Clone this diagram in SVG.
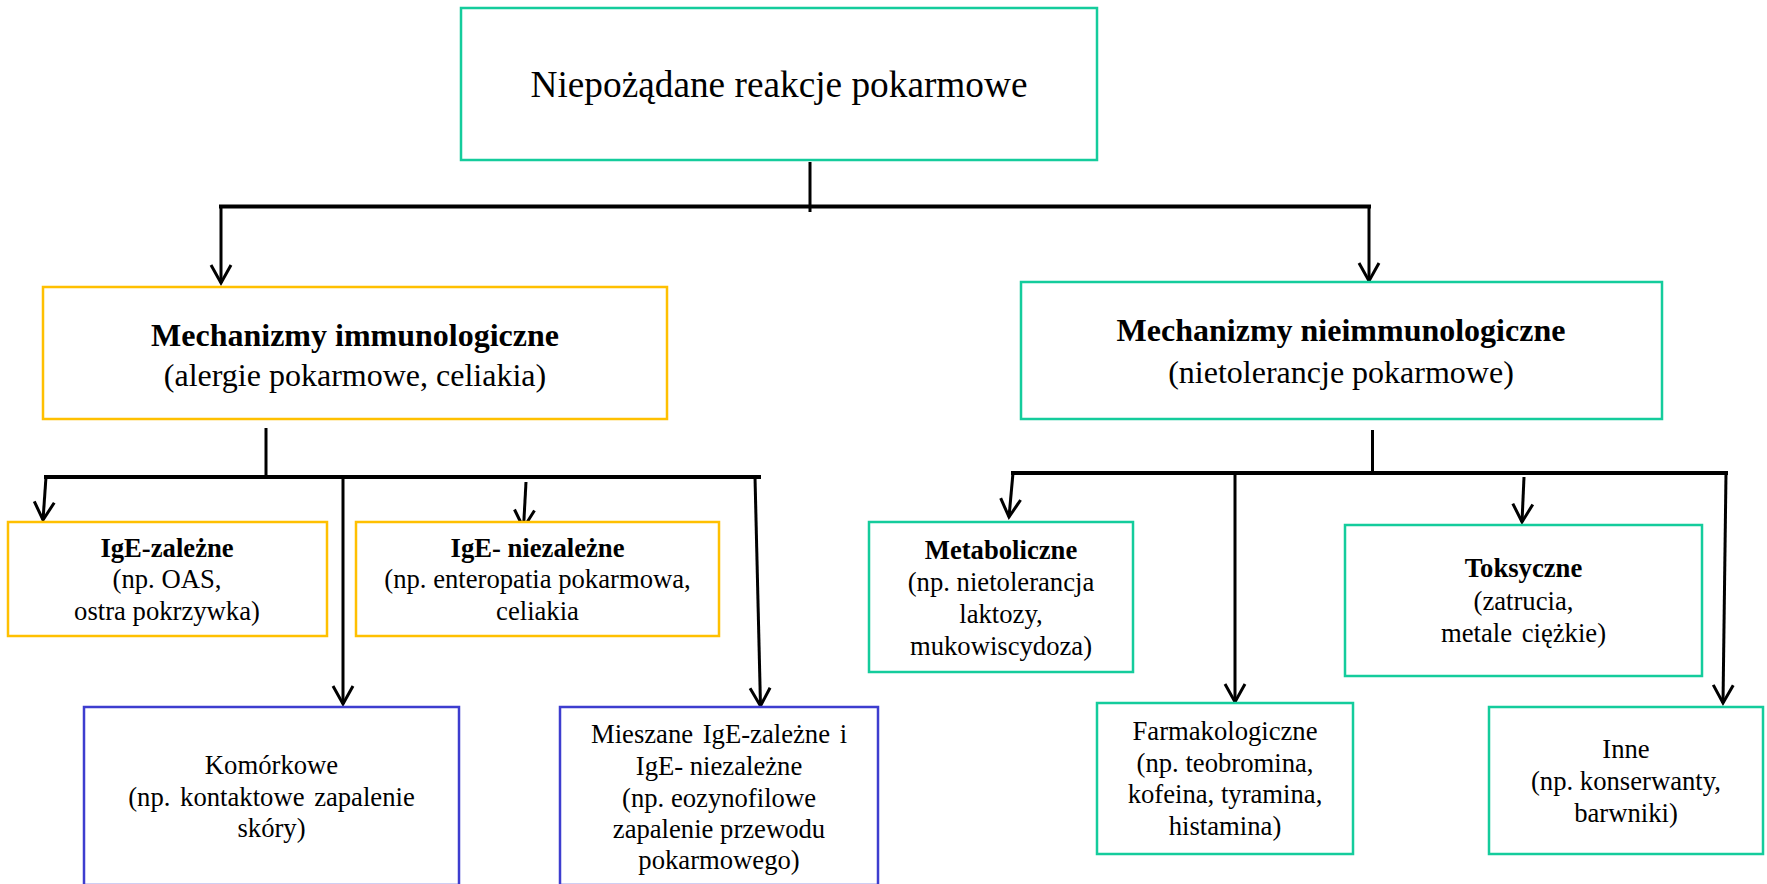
<svg xmlns="http://www.w3.org/2000/svg" width="1767" height="884" viewBox="0 0 1767 884">
<style>
.box{fill:#fff;stroke-width:2.5}
.teal{stroke:#14CC9C}
.yel{stroke:#FFC000}
.blu{stroke:#3D3DCF}
text{font-family:"Liberation Serif","Times New Roman",serif;fill:#000;text-anchor:middle}
.t0{font-size:37.3px}
.t1{font-size:32px}
.t2{font-size:26.67px}
.b{font-weight:bold}
.ln{stroke:#000;fill:none;stroke-width:3}
.hl{stroke:#000;fill:none;stroke-width:4}
.ar{stroke:#000;fill:none;stroke-width:3;marker-end:url(#ah)}
</style>
<defs>
<marker id="ah" markerUnits="userSpaceOnUse" markerWidth="30" markerHeight="30" refX="0" refY="0" orient="auto" overflow="visible">
<path d="M-18,-10 L0,0 L-18,10" fill="none" stroke="#000" stroke-width="3" stroke-linejoin="miter"/>
</marker>
</defs>
<rect width="1767" height="884" fill="#fff"/>
<g id="connectors">
<line class="ln" x1="810" y1="162" x2="810" y2="212"/>
<line class="hl" x1="219" y1="206.5" x2="1371" y2="206.5"/>
<line class="ar" x1="221" y1="205" x2="221" y2="283"/>
<line class="ar" x1="1369" y1="205" x2="1369" y2="281"/>
<line class="ln" x1="266" y1="428" x2="266" y2="475"/>
<line class="hl" x1="44" y1="477" x2="761" y2="477"/>
<line class="ar" x1="46" y1="477" x2="43" y2="520"/>
<line class="ar" x1="343" y1="477" x2="343" y2="704"/>
<line class="ar" x1="526" y1="482" x2="523.5" y2="528"/>
<line class="ar" x1="755" y1="477" x2="760.5" y2="706"/>
<line class="ln" x1="1372.5" y1="430" x2="1372.5" y2="473"/>
<line class="hl" x1="1011" y1="473" x2="1728" y2="473"/>
<line class="ar" x1="1013" y1="473" x2="1009" y2="517"/>
<line class="ar" x1="1235" y1="473" x2="1235" y2="702"/>
<line class="ar" x1="1524" y1="477" x2="1522" y2="522"/>
<line class="ar" x1="1726" y1="473" x2="1723" y2="703"/>
</g>
<g id="n-top">
<rect class="box teal" x="461" y="8" width="636" height="152"/>
<text class="t0" x="779" y="97">Niepożądane reakcje pokarmowe</text>
</g>
<g id="n-immuno">
<rect class="box yel" x="43" y="287" width="624" height="132"/>
<text class="t1 b" x="355" y="346">Mechanizmy immunologiczne</text>
<text class="t1" x="355" y="386">(alergie pokarmowe, celiakia)</text>
</g>
<g id="n-nieimmuno">
<rect class="box teal" x="1021" y="282" width="641" height="137"/>
<text class="t1 b" x="1341" y="341">Mechanizmy nieimmunologiczne</text>
<text class="t1" x="1341" y="383">(nietolerancje pokarmowe)</text>
</g>
<g id="n-ige">
<rect class="box yel" x="8" y="522" width="319" height="114"/>
<text class="t2 b" x="167" y="557">IgE-zależne</text>
<text class="t2" x="167" y="588">(np. OAS,</text>
<text class="t2" x="167" y="620">ostra pokrzywka)</text>
</g>
<g id="n-nonige">
<rect class="box yel" x="356" y="522" width="363" height="114"/>
<text class="t2 b" x="537.5" y="557">IgE- niezależne</text>
<text class="t2" x="537.5" y="588">(np. enteropatia pokarmowa,</text>
<text class="t2" x="537.5" y="620">celiakia</text>
</g>
<g id="n-komorkowe">
<rect class="box blu" x="84" y="707" width="375" height="178"/>
<text class="t2" x="271.5" y="774">Komórkowe</text>
<text class="t2" x="271.5" y="806" word-spacing="3">(np. kontaktowe zapalenie</text>
<text class="t2" x="271.5" y="837">skóry)</text>
</g>
<g id="n-mieszane">
<rect class="box blu" x="560" y="707" width="318" height="178"/>
<text class="t2" x="719" y="743" word-spacing="3">Mieszane IgE-zależne i</text>
<text class="t2" x="719" y="775">IgE- niezależne</text>
<text class="t2" x="719" y="807">(np. eozynofilowe</text>
<text class="t2" x="719" y="838">zapalenie przewodu</text>
<text class="t2" x="719" y="869">pokarmowego)</text>
</g>
<g id="n-metaboliczne">
<rect class="box teal" x="869" y="522" width="264" height="150"/>
<text class="t2 b" x="1001" y="559">Metaboliczne</text>
<text class="t2" x="1001" y="591">(np. nietolerancja</text>
<text class="t2" x="1001" y="623">laktozy,</text>
<text class="t2" x="1001" y="655">mukowiscydoza)</text>
</g>
<g id="n-farmakologiczne">
<rect class="box teal" x="1097" y="703" width="256" height="151"/>
<text class="t2" x="1225" y="740">Farmakologiczne</text>
<text class="t2" x="1225" y="772">(np. teobromina,</text>
<text class="t2" x="1225" y="803">kofeina, tyramina,</text>
<text class="t2" x="1225" y="835">histamina)</text>
</g>
<g id="n-toksyczne">
<rect class="box teal" x="1345" y="525" width="357" height="151"/>
<text class="t2 b" x="1523.5" y="577">Toksyczne</text>
<text class="t2" x="1523.5" y="610">(zatrucia,</text>
<text class="t2" x="1523.5" y="642" word-spacing="3">metale ciężkie)</text>
</g>
<g id="n-inne">
<rect class="box teal" x="1489" y="707" width="274" height="147"/>
<text class="t2" x="1626" y="758">Inne</text>
<text class="t2" x="1626" y="790">(np. konserwanty,</text>
<text class="t2" x="1626" y="822">barwniki)</text>
</g>
</svg>
